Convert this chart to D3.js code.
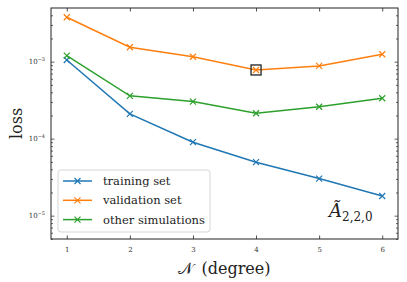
<!DOCTYPE html>
<html><head><meta charset="utf-8">
<script src="https://cdn.jsdelivr.net/npm/d3@7"></script>
<style>body{margin:0;background:#fff}svg{display:block}svg text{font-family:"DejaVu Serif","Liberation Serif",serif}</style>
</head><body>
<script>
const degrees = [1, 2, 3, 4, 5, 6];
const trainingLoss = [1.05e-3, 2.1e-4, 9.0e-5, 4.95e-5, 3.03e-5, 1.8e-5];
const validationLoss = [3.78e-3, 1.54e-3, 1.16e-3, 7.8e-4, 8.8e-4, 1.25e-3];
const otherLoss = [1.2e-3, 3.6e-4, 3.03e-4, 2.14e-4, 2.6e-4, 3.35e-4];
const seriesNames = ["training set", "validation set", "other simulations"];
const seriesColors = ["#1f77b4", "#ff7f0e", "#2ca02c"];
const yTickExps = [-5, -4, -3];
const bestIndex = 3;

const W = 407, H = 282;
const m = {l: 51, r: 9, t: 8, b: 43};
const svg = d3.select("body").append("svg").attr("width", W).attr("height", H);
const x = d3.scaleLinear().domain([0.75, 6.25]).range([m.l, W - m.r]);
const y = d3.scaleLog().domain([Math.pow(10, -5.303), Math.pow(10, -2.303)]).range([H - m.b, m.t]);

const series = [trainingLoss, validationLoss, otherLoss];
const line = d3.line().x((d, i) => x(degrees[i])).y(d => y(d));
const g = svg.append("g");

series.forEach((s, k) => {
  g.append("path").datum(s).attr("d", line).attr("fill", "none")
    .attr("stroke", seriesColors[k]).attr("stroke-width", 1.5);
  g.selectAll(null).data(s).enter().append("path")
    .attr("transform", (d, i) => `translate(${x(degrees[i])},${y(d)})`)
    .attr("d", "M-3,-3L3,3M-3,3L3,-3").attr("stroke", seriesColors[k]).attr("stroke-width", 1.2);
});

g.append("rect")
  .attr("x", x(degrees[bestIndex]) - 5).attr("y", y(validationLoss[bestIndex]) - 5)
  .attr("width", 10).attr("height", 10).attr("fill", "none")
  .attr("stroke", "#222").attr("stroke-width", 1.3);

svg.append("rect").attr("x", m.l).attr("y", m.t).attr("width", W - m.r - m.l).attr("height", H - m.b - m.t)
  .attr("fill", "none").attr("stroke", "#222").attr("stroke-width", 1);

const xb = svg.append("g").attr("transform", `translate(0,${H - m.b})`)
  .call(d3.axisBottom(x).tickValues(degrees).tickSize(-3.5).tickPadding(8).tickFormat(d3.format("d")));
const xt = svg.append("g").attr("transform", `translate(0,${m.t})`)
  .call(d3.axisTop(x).tickValues(degrees).tickSize(-3.5).tickFormat(""));
[xb, xt].forEach(a => { a.select(".domain").remove(); a.selectAll("line").attr("stroke", "#222").attr("stroke-width", 0.8); });
xb.selectAll("text").style("font-family", "'DejaVu Serif',serif").attr("font-size", 7).attr("fill", "#333");

const minor = [];
for (let e = -6; e <= -2; e++) for (let k = 2; k <= 9; k++) {
  const v = k * Math.pow(10, e);
  if (v >= y.domain()[0] && v <= y.domain()[1]) minor.push(v);
}
const major = yTickExps.map(e => Math.pow(10, e));
const yl = svg.append("g").attr("transform", `translate(${m.l},0)`)
  .call(d3.axisLeft(y).tickValues(major).tickSize(-3.5).tickFormat(""));
const ylm = svg.append("g").attr("transform", `translate(${m.l},0)`)
  .call(d3.axisLeft(y).tickValues(minor).tickSize(-2).tickFormat(""));
const yr = svg.append("g").attr("transform", `translate(${W - m.r},0)`)
  .call(d3.axisRight(y).tickValues(major).tickSize(-3.5).tickFormat(""));
const yrm = svg.append("g").attr("transform", `translate(${W - m.r},0)`)
  .call(d3.axisRight(y).tickValues(minor).tickSize(-2).tickFormat(""));
[yl, ylm, yr, yrm].forEach(a => { a.select(".domain").remove(); a.selectAll("line").attr("stroke", "#222").attr("stroke-width", 0.7); });

yTickExps.forEach(e => {
  const t = svg.append("text").attr("x", m.l - 6).attr("y", y(Math.pow(10, e)) + 2.5)
    .attr("text-anchor", "end").attr("font-size", 7).attr("fill", "#333");
  t.append("tspan").text("10");
  t.append("tspan").attr("dy", -3.5).attr("font-size", 5).text("\u2212" + Math.abs(e));
});

svg.append("text").attr("transform", `translate(22,${(m.t + H - m.b) / 2}) rotate(-90)`)
  .attr("text-anchor", "middle").attr("font-size", 16).attr("fill", "#222").text("loss");
const xl = svg.append("text").attr("x", (m.l + W - m.r) / 2).attr("y", 274)
  .attr("text-anchor", "middle").attr("font-size", 16).attr("fill", "#222");
xl.append("tspan").text("\uD835\uDCA9");
xl.append("tspan").text("\u2002(degree)");

const an = svg.append("text").attr("x", 329).attr("y", 217).attr("font-size", 18).attr("fill", "#222");
an.append("tspan").attr("font-style", "italic").text("\u00C3");
an.append("tspan").attr("dy", 4).attr("font-size", 12).text("2,2,0");

const lg = svg.append("g");
lg.append("rect").attr("x", 58).attr("y", 170).attr("width", 152).attr("height", 62).attr("rx", 3)
  .attr("fill", "#fff").attr("fill-opacity", 0.8).attr("stroke", "#ccc").attr("stroke-width", 0.8);
seriesNames.forEach((n, k) => {
  const yy = 181 + k * 19.3;
  lg.append("line").attr("x1", 63).attr("x2", 92).attr("y1", yy).attr("y2", yy)
    .attr("stroke", seriesColors[k]).attr("stroke-width", 1.5);
  lg.append("path").attr("transform", `translate(77.5,${yy})`).attr("d", "M-3,-3L3,3M-3,3L3,-3")
    .attr("stroke", seriesColors[k]).attr("stroke-width", 1.2);
  lg.append("text").attr("x", 103).attr("y", yy + 4).attr("font-size", 11.5)
    .attr("fill", "#222").text(n);
});
</script>
</body></html>
